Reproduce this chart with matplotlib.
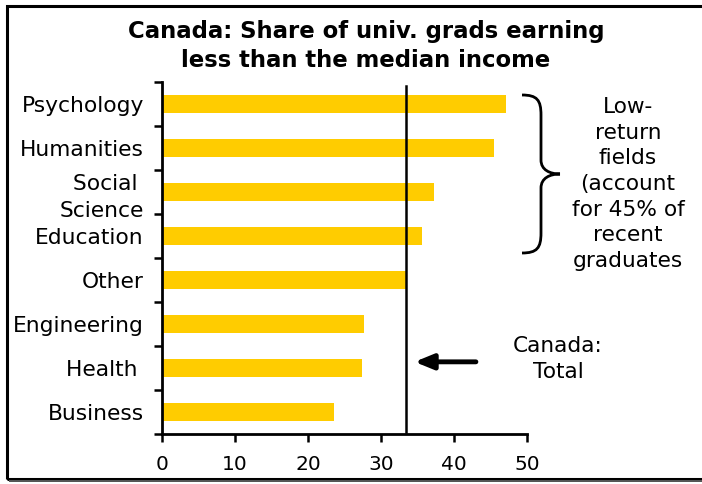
import numpy as np
import matplotlib
matplotlib.use('Agg')
import matplotlib.pyplot as plt
from matplotlib.path import Path
from matplotlib.patches import PathPatch, Rectangle

# data
fields = ['Psychology', 'Humanities', 'Social \nScience', 'Education',
          'Other', 'Engineering', 'Health ', 'Business']
share_below_median = [47.1, 45.5, 37.3, 35.6, 33.4, 27.7, 27.4, 23.6]
canada_total = 33.4
x_ticks = [0, 10, 20, 30, 40, 50]

W, H = 702, 484
bar_color = '#FFCC00'

plt.rcParams['font.family'] = ['DejaVu Sans']

fig = plt.figure(figsize=(W / 100, H / 100), dpi=100)


def fx(px):
    return px / W


def fy(py):
    return 1 - py / H


ax = fig.add_axes([fx(162), fy(434), fx(527) - fx(162), fy(82) - fy(434)])

ypos = np.arange(len(fields))
ax.barh(ypos, share_below_median, height=0.42, color=bar_color, zorder=2)
ax.axvline(canada_total, ymin=0.005, ymax=0.99, color='black', lw=1.8, zorder=3)

ax.set_xlim(0, 50)
ax.set_ylim(len(fields) - 0.5, -0.5)
ax.set_xticks(x_ticks)
ax.set_yticks(ypos)
ax.set_yticklabels(fields)
ax.set_yticks(np.arange(len(fields) + 1) - 0.5, minor=True)
for lab in ax.get_yticklabels():
    lab.set_linespacing(1.45)

ax.tick_params(axis='y', which='major', length=0, pad=13, labelsize=15.7)
ax.tick_params(axis='y', which='minor', length=6, width=1.8, direction='out')
ax.tick_params(axis='x', length=6, width=1.8, direction='out', pad=9, labelsize=14.5)

for s in ['top', 'right']:
    ax.spines[s].set_visible(False)
for s in ['left', 'bottom']:
    ax.spines[s].set_linewidth(2)

# arrow pointing at the total line
ax.annotate('', xy=(34.6, 5.86), xytext=(43.0, 5.86),
            arrowprops=dict(arrowstyle='-|>,head_length=1.1,head_width=0.45',
                            lw=3.5, color='black', shrinkA=0, shrinkB=0),
            annotation_clip=False)

fig.text(fx(558), fy(359), 'Canada:\nTotal', ha='center', va='center',
         fontsize=15.6, linespacing=1.38)

fig.text(fx(628), fy(184),
         'Low-\nreturn\nfields\n(account\nfor 45% of\nrecent\ngraduates',
         ha='center', va='center', fontsize=15.6, linespacing=1.35)

# curly brace
pts = [(522, 95), (537, 95), (541, 100), (541, 115),
       (541, 160),
       (541, 170), (550, 174), (560, 174),
       (550, 174), (541, 178), (541, 188),
       (541, 233),
       (541, 248), (537, 253), (522, 253)]
codes = [Path.MOVETO, Path.CURVE4, Path.CURVE4, Path.CURVE4,
         Path.LINETO,
         Path.CURVE4, Path.CURVE4, Path.CURVE4,
         Path.CURVE4, Path.CURVE4, Path.CURVE4,
         Path.LINETO,
         Path.CURVE4, Path.CURVE4, Path.CURVE4]
brace = Path([(fx(x), fy(y)) for x, y in pts], codes)
fig.patches.append(PathPatch(brace, transform=fig.transFigure, fill=False,
                             lw=2, color='black'))

fig.text(fx(366), fy(46), 'Canada: Share of univ. grads earning\nless than the median income',
         ha='center', va='center', fontsize=16.4, fontweight='bold', linespacing=1.35)

# outer frame
fig.patches.append(Rectangle((fx(7), fy(479)), fx(710) - fx(7), fy(6) - fy(479),
                             transform=fig.transFigure, fill=False, lw=2.2,
                             edgecolor='black'))
fig.patches.append(Rectangle((fx(9), fy(482)), fx(710) - fx(9), 2.5 / H,
                             transform=fig.transFigure, color='#555555', lw=0))

fig.savefig('out.png', dpi=100)
